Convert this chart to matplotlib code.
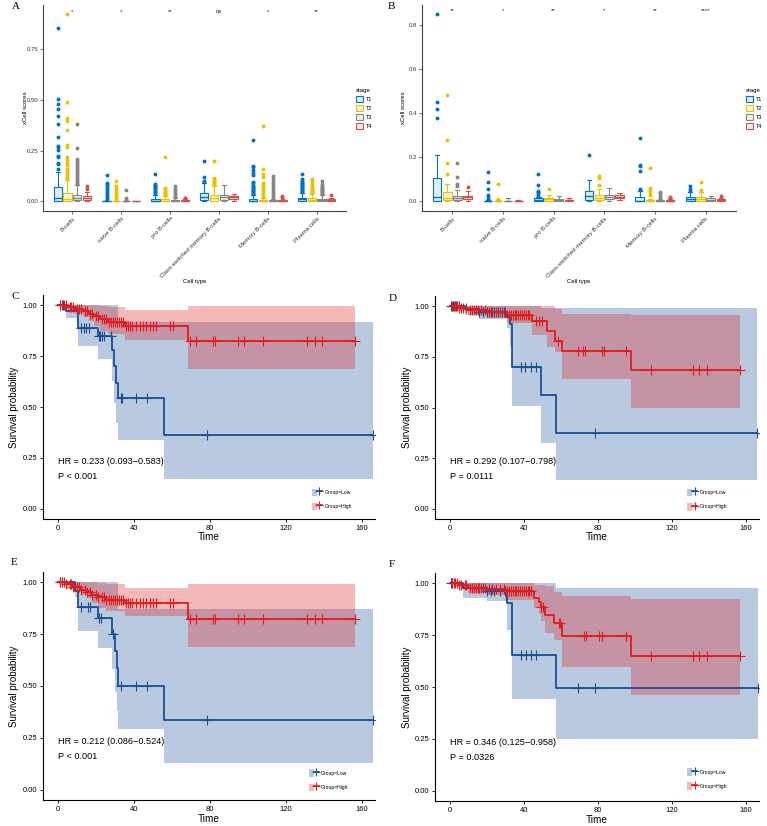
import numpy as np
import matplotlib
matplotlib.use("Agg")
import matplotlib.pyplot as plt
from matplotlib.patches import Patch
from matplotlib.lines import Line2D
from matplotlib.legend_handler import HandlerTuple
from matplotlib.colors import to_rgba

plt.rcParams['font.family'] = ['Liberation Sans', 'DejaVu Sans']

W, H = 767, 826

# === Box plot data (A: T stage set 1, B: T stage set 2) ===
cell_types = ["B-cells", "naive B-cells", "pro B-cells", "Class-switched memory B-cells",
              "Memory B-cells", "Plasma cells"]
stages = ["T1", "T2", "T3", "T4"]
stage_colors = ["#0073C2", "#EFC000", "#868686", "#CD534C"]

a_q1 = [[0.003, 0.003, 0.005, 0.008], [0, 0, 0, 0], [0, 0, 0, 0],
        [0.005, 0.002, 0.005, 0.012], [0, 0, 0, 0], [0.003, 0.003, 0.002, 0.002]]
a_med = [[0.018, 0.013, 0.018, 0.018], [0, 0, 0, 0], [0.002, 0.003, 0.001, 0.001],
         [0.021, 0.015, 0.02, 0.02], [0.003, 0.001, 0.001, 0.001], [0.01, 0.008, 0.006, 0.006]]
a_q3 = [[0.068, 0.043, 0.033, 0.026], [0.002, 0.001, 0.001, 0.001], [0.013, 0.01, 0.006, 0.004],
        [0.042, 0.033, 0.033, 0.028], [0.013, 0.006, 0.004, 0.005], [0.018, 0.018, 0.012, 0.01]]
a_lo = [[0, 0, 0, 0], [0, 0, 0, 0], [0, 0, 0, 0], [0, 0, 0, 0.003], [0, 0, 0, 0], [0, 0, 0, 0]]
a_hi = [[0.145, 0.105, 0.078, 0.048], [0.005, 0.003, 0.002, 0.001], [0.033, 0.025, 0.015, 0.01],
        [0.09, 0.075, 0.078, 0.035], [0.03, 0.015, 0.01, 0.012], [0.04, 0.035, 0.03, 0.018]]
a_out = [
    [[0.857, 0.502, 0.479, 0.456, 0.421, 0.38, 0.317, 0.273, 0.266, 0.252, 0.224, 0.216, 0.189, 0.183, 0.16],
     [0.926, 0.49, 0.41, 0.395, 0.35, 0.277, 0.27, 0.219, 0.202, 0.19, 0.177, 0.16, 0.15, 0.137, 0.13, 0.12, 0.115, 0.11],
     [0.38, 0.262, 0.208, 0.2, 0.19, 0.18, 0.17, 0.16, 0.15, 0.14, 0.13, 0.12, 0.11, 0.1, 0.09, 0.085],
     [0.076, 0.062]],
    [[0.13, 0.09, 0.085, 0.08, 0.07, 0.06, 0.05, 0.04, 0.03, 0.02, 0.01],
     [0.099, 0.075, 0.065, 0.05, 0.04, 0.03, 0.02, 0.01],
     [0.054, 0.015, 0.008], []],
    [[0.135, 0.085, 0.08, 0.075, 0.07, 0.065, 0.06, 0.05, 0.045, 0.04],
     [0.218, 0.065, 0.06, 0.055, 0.05, 0.045, 0.04, 0.035, 0.03],
     [0.073, 0.06, 0.05, 0.04, 0.03, 0.02], [0.018, 0.015]],
    [[0.199, 0.122, 0.1, 0.095],
     [0.197, 0.115, 0.11, 0.105, 0.1, 0.095, 0.09, 0.085, 0.08],
     [], []],
    [[0.301, 0.175, 0.17, 0.155, 0.14, 0.13, 0.095, 0.09, 0.08, 0.075, 0.07, 0.065, 0.06, 0.055, 0.05, 0.045, 0.04, 0.035],
     [0.372, 0.16, 0.135, 0.12, 0.09, 0.08, 0.07, 0.06, 0.05, 0.04, 0.03, 0.02],
     [0.125, 0.11, 0.095, 0.085, 0.07, 0.06, 0.05, 0.04, 0.03, 0.02], [0.025, 0.02]],
    [[0.135, 0.11, 0.1, 0.095, 0.09, 0.085, 0.08, 0.075, 0.07, 0.065, 0.06, 0.055, 0.05, 0.045],
     [0.11, 0.1, 0.09, 0.08, 0.07, 0.065, 0.06, 0.055, 0.05, 0.045, 0.04],
     [0.1, 0.085, 0.075, 0.07, 0.065, 0.06, 0.055, 0.05, 0.045, 0.04, 0.035], [0.03]],
]
a_sig = ["*", "*", "**", "ns", "*", "**"]

b_q1 = [[0, 0.005, 0.005, 0.008], [0, 0, 0, 0], [0, 0.002, 0, 0.001],
        [0.005, 0.003, 0.01, 0.012], [0, 0, 0, 0], [0.002, 0.002, 0.002, 0]]
b_med = [[0.02, 0.012, 0.015, 0.017], [0, 0, 0, 0], [0.007, 0.008, 0.004, 0.003],
         [0.022, 0.012, 0.02, 0.02], [0.002, 0.001, 0.001, 0.001], [0.01, 0.008, 0.005, 0.004]]
b_q3 = [[0.103, 0.04, 0.025, 0.025], [0.002, 0.001, 0.001, 0.001], [0.015, 0.015, 0.01, 0.006],
        [0.047, 0.03, 0.03, 0.028], [0.02, 0.005, 0.003, 0.003], [0.02, 0.018, 0.012, 0.008]]
b_lo = [[0, 0, 0, 0], [0, 0, 0, 0], [0, 0, 0, 0], [0, 0, 0, 0.005], [0, 0, 0, 0], [0, 0, 0, 0]]
b_hi = [[0.209, 0.076, 0.05, 0.045], [0.005, 0.003, 0.015, 0.003], [0.02, 0.03, 0.025, 0.015],
        [0.095, 0.055, 0.06, 0.035], [0.045, 0.01, 0.008, 0.008], [0.04, 0.04, 0.025, 0.012]]
b_out = [
    [[0.853, 0.452, 0.418, 0.38], [0.483, 0.278, 0.175, 0.123], [0.175, 0.11, 0.08, 0.07], [0.062]],
    [[0.133, 0.085, 0.055, 0.03, 0.02, 0.01], [0.076, 0.01, 0.005], [], []],
    [[0.125, 0.073, 0.045, 0.04, 0.035, 0.03], [0.055], [], []],
    [[0.209], [0.115, 0.105, 0.075], [], []],
    [[0.288, 0.165, 0.16, 0.135, 0.055, 0.05], [0.15, 0.06, 0.05, 0.04, 0.03], [0.04, 0.035, 0.03, 0.02], [0.02, 0.015]],
    [[0.068, 0.055, 0.048], [0.085, 0.05], [], [0.025]],
]
b_sig = ["**", "*", "**", "*", "**", "****"]

# === Kaplan-Meier data: step start times, survival, CI lower/upper, last time, censor times ===
low_color = "#1A4F96"
high_color = "#E41A1C"

c_low_t = [0, 4.2, 10.6, 21, 28.5, 29.5, 30.5, 31.5, 55.8]
c_low_s = [1, 0.97, 0.89, 0.85, 0.78, 0.70, 0.62, 0.545, 0.363]
c_low_lo = [1, 0.935, 0.80, 0.735, 0.63, 0.52, 0.42, 0.34, 0.145]
c_low_up = [1, 1, 1, 1, 1, 1, 1, 0.915, 0.915]
c_low_end = 165.8
c_low_cens = [1.2, 2.5, 11.8, 13.6, 14.9, 16.2, 21.5, 22.3, 23.2, 24.1, 27.6, 32.9, 33.8, 40.8, 47, 78.3, 165.8]

c_high_t = [0, 5, 9, 13, 16, 19, 22, 26, 35, 68.5]
c_high_s = [1, 0.99, 0.98, 0.97, 0.958, 0.945, 0.93, 0.915, 0.90, 0.825]
c_high_lo = [1, 0.97, 0.955, 0.94, 0.92, 0.90, 0.875, 0.86, 0.83, 0.685]
c_high_up = [1, 1, 1, 1, 1, 1, 0.995, 0.99, 0.975, 0.995]
c_high_end = 156.2
c_high_cens = [1, 2, 3, 4, 6, 7, 8, 10, 11, 12, 14, 15, 17, 18, 20, 21, 23, 24, 25, 27, 28, 29, 30, 31,
               32, 33, 34, 36, 37, 38, 39, 41, 43, 44.7, 46.5, 48.2, 50, 51.8, 58.8, 60.6, 69.7, 72.4,
               81.7, 82.9, 94.9, 97.9, 108.1, 131.3, 135.4, 139.3, 156.2]

d_low_t = [0, 8, 16, 31, 32.5, 33.7, 49, 57.5]
d_low_s = [1, 0.985, 0.97, 0.945, 0.91, 0.70, 0.56, 0.373]
d_low_lo = [1, 0.955, 0.935, 0.89, 0.80, 0.507, 0.327, 0.143]
d_low_up = [1, 1, 1, 1, 1, 1, 0.99, 0.99]
d_low_end = 166
d_low_cens = [0.9, 1.8, 3.2, 4.9, 16, 18, 20, 22, 24, 26, 28, 30, 38.7, 40.5, 43.6, 46.3, 78.4, 166]

d_high_t = [0, 5, 10, 20, 31, 44.5, 52.3, 56.8, 60.7, 97.7]
d_high_s = [1, 0.99, 0.98, 0.97, 0.955, 0.926, 0.878, 0.83, 0.78, 0.685]
d_high_lo = [1, 0.975, 0.955, 0.94, 0.918, 0.857, 0.80, 0.775, 0.639, 0.496]
d_high_up = [1, 1, 1, 1, 1, 1, 1, 0.985, 0.96, 0.955]
d_high_end = 156.6
d_high_cens = [1, 2, 3, 4, 5, 6, 7, 9, 11, 12, 13, 14, 15, 17, 19, 21, 23, 25, 27, 29, 32, 33, 34, 35,
               36, 37, 38, 39, 40, 41, 42, 43, 46.5, 48.4, 49.6, 58.7, 69.4, 72.1, 72.8, 82.3, 83.2,
               95.1, 108.5, 131.5, 134.6, 138.7, 156.6]

e_low_t = [0, 9, 10.7, 21.1, 28.5, 30.1, 31, 31.5, 55.8]
e_low_s = [1, 0.96, 0.88, 0.828, 0.752, 0.67, 0.587, 0.50, 0.334]
e_low_lo = [1, 0.93, 0.764, 0.684, 0.58, 0.47, 0.38, 0.293, 0.129]
e_low_up = [1, 1, 1, 1, 1, 1, 1, 0.872, 0.872]
e_low_end = 165.8
e_low_cens = [1, 2, 12, 15.5, 16.8, 21.5, 22.5, 28.7, 32.9, 40.8, 47, 78.3, 165.8]

e_high_t = [0, 4, 8, 12, 15, 18, 21, 25, 35, 68.5]
e_high_s = [1, 0.99, 0.98, 0.965, 0.955, 0.94, 0.93, 0.915, 0.90, 0.825]
e_high_lo = [1, 0.97, 0.955, 0.94, 0.925, 0.90, 0.875, 0.86, 0.836, 0.686]
e_high_up = [1, 1, 1, 1, 1, 1, 0.995, 0.99, 0.973, 0.994]
e_high_end = 156.2
e_high_cens = c_high_cens

f_low_t = [0, 7.2, 20, 31, 33.4, 57.3]
f_low_s = [1, 0.976, 0.965, 0.904, 0.652, 0.494]
f_low_lo = [1, 0.93, 0.915, 0.775, 0.442, 0.248]
f_low_up = [1, 1, 1, 1, 1, 0.979]
f_low_end = 166.3
f_low_cens = [0.6, 1.1, 13, 16, 18, 20, 22, 24, 27, 30, 38.7, 40.9, 43.6, 46.3, 69.2, 78.3, 166.3]

f_high_t = [0, 5, 10, 20, 30, 45.4, 48.1, 49.5, 51.6, 56.1, 60.6, 97.6]
f_high_s = [1, 0.99, 0.98, 0.972, 0.963, 0.93, 0.912, 0.888, 0.848, 0.808, 0.748, 0.651]
f_high_lo = [1, 0.975, 0.955, 0.944, 0.92, 0.88, 0.85, 0.82, 0.76, 0.727, 0.595, 0.462]
f_high_up = [1, 1, 1, 1, 1, 0.99, 0.99, 0.99, 0.985, 0.96, 0.939, 0.925]
f_high_end = 156.7
f_high_cens = [1, 2, 3, 4, 5, 6, 8, 9, 11, 12, 13, 14, 15, 16, 17, 19, 21, 23, 25, 27, 29, 31, 32, 33,
               34, 35, 36, 37, 38, 39, 40, 41, 42, 43, 44, 49.5, 50.4, 58.8, 59.7, 72.4, 73.3, 80.5,
               82.4, 95, 108.4, 131.5, 134.6, 139.1, 156.7]

hr_texts = ["HR = 0.233 (0.093\u22120.583)", "HR = 0.292 (0.107\u22120.798)",
            "HR = 0.212 (0.086\u22120.524)", "HR = 0.346 (0.125\u22120.958)"]
p_texts = ["P < 0.001", "P = 0.0111", "P < 0.001", "P = 0.0326"]

fig = plt.figure(figsize=(W / 100, H / 100), dpi=100)


def px_axes(l, t, r, b):
    return fig.add_axes([l / W, 1 - b / H, (r - l) / W, (b - t) / H])


# === Box plots ===
def draw_box(ax, q1, med, q3, lo, hi, out, sig, yticks, ylim, sig_y):
    offsets = [-0.3, -0.1, 0.1, 0.3]
    for j, c in enumerate(stage_colors):
        stats = [dict(q1=q1[i][j], med=med[i][j], q3=q3[i][j], whislo=lo[i][j],
                      whishi=hi[i][j], fliers=out[i][j]) for i in range(6)]
        pos = [i + 1 + offsets[j] for i in range(6)]
        ax.bxp(stats, positions=pos, widths=0.17, patch_artist=True, manage_ticks=False,
               capwidths=0.08,
               boxprops=dict(facecolor=to_rgba(c, 0.12), edgecolor=c, lw=0.8),
               whiskerprops=dict(color=c, lw=0.8), capprops=dict(color=c, lw=0.8),
               medianprops=dict(color=c, lw=1.0),
               flierprops=dict(marker="o", markerfacecolor=c, markeredgecolor=c, markersize=1.8))
    for i, s in enumerate(sig):
        ax.text(i + 1, sig_y, s, ha="center", va="center", fontsize=4.3, color="#222222")
    ax.set_xlim(0.4, 6.6)
    ax.set_ylim(*ylim)
    ax.set_xticks(range(1, 7))
    ax.set_xticklabels(cell_types, rotation=45, ha="right", rotation_mode="anchor", fontsize=4.3)
    ax.set_yticks(yticks)
    ax.tick_params(labelsize=4.3, length=2, width=0.5, pad=1.5, colors="#333333")
    for side in ["top", "right"]:
        ax.spines[side].set_visible(False)
    for side in ["left", "bottom"]:
        ax.spines[side].set_linewidth(0.8)
        ax.spines[side].set_color("#444444")
    ax.set_xlabel("Cell type", fontsize=4.3)
    ax.set_ylabel("xCell scores", fontsize=4.3)
    ax.xaxis.set_label_coords(0.5, -0.33)
    ax.yaxis.set_label_coords(-0.05, 0.5)


ax_a = px_axes(43, 5, 346, 211)
draw_box(ax_a, a_q1, a_med, a_q3, a_lo, a_hi, a_out, a_sig,
         [0, 0.25, 0.5, 0.75], (-0.048, 0.968), 0.935)
ax_a.set_yticklabels(["0.00", "0.25", "0.50", "0.75"])

ax_b = px_axes(422, 5, 736, 211)
draw_box(ax_b, b_q1, b_med, b_q3, b_lo, b_hi, b_out, b_sig,
         [0, 0.2, 0.4, 0.6, 0.8], (-0.045, 0.892), 0.866)
ax_b.set_yticklabels(["0.0", "0.2", "0.4", "0.6", "0.8"])

stage_handles = [Patch(facecolor=to_rgba(c, 0.12), edgecolor=c, lw=0.8) for c in stage_colors]
for x0 in [353, 743]:
    fig.legend(stage_handles, stages, title="stage", loc="upper left",
               bbox_to_anchor=(x0 / W, 1 - 85 / H), frameon=False, fontsize=4.0,
               title_fontsize=4.3, handlelength=1.3, handleheight=1.3, labelspacing=0.55,
               handletextpad=0.6, borderpad=0, alignment="left")


# === Kaplan-Meier panels ===
def draw_group(ax, t, s, lo, up, end, cens, color, band_only=False, line_only=False):
    x = np.array(t + [end])
    if not line_only:
        ax.fill_between(x, lo + [lo[-1]], up + [up[-1]], step="post", color=color, alpha=0.3, lw=0)
    if not band_only:
        y = np.array(s + [s[-1]])
        ax.step(x, y, where="post", color=color, lw=1.3)
        idx = np.searchsorted(np.array(t), np.array(cens), side="right") - 1
        ax.plot(cens, np.array(s)[idx], "+", color=color, ms=7, mew=0.8, linestyle="none")


def draw_km(ax, low, high, hr, p, leg_xy):
    draw_group(ax, *low, low_color, band_only=True)
    draw_group(ax, *high, high_color, band_only=True)
    draw_group(ax, *low, low_color, line_only=True)
    draw_group(ax, *high, high_color, line_only=True)
    ax.set_xlim(-8, 167)
    ax.set_ylim(-0.05, 1.05)
    ax.set_xticks([0, 40, 80, 120, 160])
    ax.set_yticks([0, 0.25, 0.5, 0.75, 1.0])
    ax.set_yticklabels(["0.00", "0.25", "0.50", "0.75", "1.00"])
    ax.tick_params(labelsize=5.5, length=2.5, width=0.6, pad=1.5, colors="black")
    for side in ["top", "right"]:
        ax.spines[side].set_visible(False)
    for side in ["left", "bottom"]:
        ax.spines[side].set_linewidth(0.8)
    ax.set_xlabel("Time", fontsize=7.2)
    ax.set_ylabel("Survival probability", fontsize=7)
    ax.xaxis.set_label_coords(0.5, -0.06)
    ax.yaxis.set_label_coords(-0.072, 0.5)
    ax.text(0, 0.232, hr, ha="left", va="center", fontsize=6.6)
    ax.text(0, 0.161, p, ha="left", va="center", fontsize=6.6)
    handles = [(Patch(facecolor=low_color, alpha=0.3, lw=0),
                Line2D([], [], color=low_color, marker="+", ms=6, mew=0.8, lw=1.2)),
               (Patch(facecolor=high_color, alpha=0.3, lw=0),
                Line2D([], [], color=high_color, marker="+", ms=6, mew=0.8, lw=1.2))]
    ax.legend(handles, ["Group=Low", "Group=High"], handler_map={tuple: HandlerTuple(ndivide=None)},
              loc="center left", bbox_to_anchor=leg_xy, frameon=False, fontsize=3.6,
              handlelength=2.0, handleheight=2.0, labelspacing=1.3, handletextpad=0.5,
              borderpad=0, borderaxespad=0)


ax_c = px_axes(43, 295, 375, 519)
draw_km(ax_c, (c_low_t, c_low_s, c_low_lo, c_low_up, c_low_end, c_low_cens),
        (c_high_t, c_high_s, c_high_lo, c_high_up, c_high_end, c_high_cens),
        hr_texts[0], p_texts[0], (0.81, 0.087))

ax_d = px_axes(435, 296, 759, 519)
draw_km(ax_d, (d_low_t, d_low_s, d_low_lo, d_low_up, d_low_end, d_low_cens),
        (d_high_t, d_high_s, d_high_lo, d_high_up, d_high_end, d_high_cens),
        hr_texts[1], p_texts[1], (0.778, 0.087))

ax_e = px_axes(43, 572, 375, 800)
draw_km(ax_e, (e_low_t, e_low_s, e_low_lo, e_low_up, e_low_end, e_low_cens),
        (e_high_t, e_high_s, e_high_lo, e_high_up, e_high_end, e_high_cens),
        hr_texts[2], p_texts[2], (0.80, 0.086))

ax_f = px_axes(435, 573, 759, 801)
draw_km(ax_f, (f_low_t, f_low_s, f_low_lo, f_low_up, f_low_end, f_low_cens),
        (f_high_t, f_high_s, f_high_lo, f_high_up, f_high_end, f_high_cens),
        hr_texts[3], p_texts[3], (0.778, 0.096))

# panel letters
for letter, (x, y) in zip("ABCDEF", [(12, 2), (388, 2), (11, 292), (389, 294), (11, 558), (389, 560)]):
    fig.text(x / W, 1 - y / H, letter, ha="left", va="top", fontsize=8,
             family=["Liberation Serif", "DejaVu Serif"])

fig.savefig("out.png", dpi=100)
